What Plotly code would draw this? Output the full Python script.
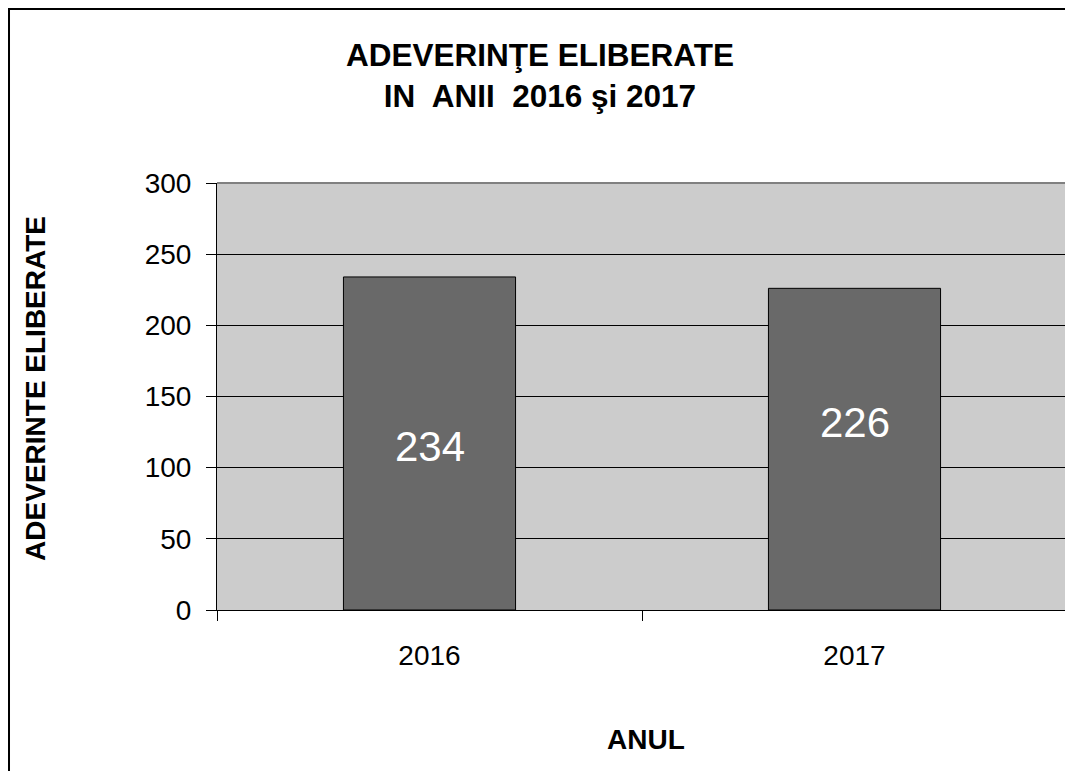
import plotly.graph_objects as go

ANI = ["2016", "2017"]
ADEVERINTE = [234, 226]
Y_TICKS = [0, 50, 100, 150, 200, 250, 300]

TITLU = "ADEVERINŢE ELIBERATE<br>IN\u00a0 ANII\u00a0 2016 şi 2017"
TITLU_Y = "ADEVERINTE ELIBERATE"
TITLU_X = "ANUL"

FONT = "Arial, Liberation Sans, sans-serif"

fig = go.Figure()

fig.add_trace(
    go.Bar(
        x=ANI,
        y=ADEVERINTE,
        width=0.405,
        marker=dict(
            color="#696969",
            line=dict(color="black", width=1)
        ),
        hoverinfo="x+y",
        showlegend=False
    )
)

# etichete valori in interiorul barelor (x = indexul categoriei)
label_shift = [-3, 27]
for i, (val, dy) in enumerate(zip(ADEVERINTE, label_shift)):
    fig.add_annotation(
        x=i,
        y=val / 2,
        text=str(val),
        showarrow=False,
        yshift=dy,
        xanchor="center",
        yanchor="middle",
        font=dict(family=FONT, size=42, color="white")
    )

# titluri axe
fig.add_annotation(
    xref="paper", yref="paper",
    x=-0.213, y=0.52,
    xanchor="center", yanchor="middle",
    text=f"<b>{TITLU_Y}</b>",
    textangle=-90,
    showarrow=False,
    font=dict(family=FONT, size=28, color="black")
)
fig.add_annotation(
    xref="paper", yref="paper",
    x=0.505, y=-0.304,
    xanchor="center", yanchor="middle",
    text=f"<b>{TITLU_X}</b>",
    showarrow=False,
    font=dict(family=FONT, size=28, color="black")
)

# chenar exterior
fig.add_shape(
    type="rect",
    xref="paper", yref="paper",
    x0=-0.2447, x1=1.03, y0=-0.45, y1=1.4075,
    line=dict(color="black", width=2),
    layer="above"
)
# margini gri sus / dreapta
fig.add_shape(
    type="line", xref="paper", yref="paper",
    x0=0, x1=1, y0=1, y1=1,
    line=dict(color="#808080", width=2), layer="above"
)
fig.add_shape(
    type="line", xref="paper", yref="paper",
    x0=1, x1=1, y0=0, y1=1,
    line=dict(color="#808080", width=2), layer="above"
)

fig.update_layout(
    width=1065,
    height=763,
    margin=dict(l=209, r=6, t=175, b=161),
    paper_bgcolor="white",
    plot_bgcolor="#CCCCCC",
    font=dict(family=FONT, size=28, color="black"),
    title=dict(
        text=f"<b>{TITLU}</b>",
        x=0.4995,
        xanchor="center",
        y=0.924,
        yanchor="middle",
        xref="container",
        yref="container",
        font=dict(family=FONT, size=31.5, color="black")
    ),
    bargap=0.6
)

fig.update_xaxes(
    type="category",
    range=[-0.5, 1.5],
    showline=True,
    linecolor="black",
    linewidth=1,
    ticks="outside",
    tickson="boundaries",
    ticklen=10,
    tickcolor="black",
    tickfont=dict(family=FONT, size=28, color="black"),
    ticklabelstandoff=20,
    showgrid=False
)

fig.update_yaxes(
    range=[0, 300],
    tickvals=Y_TICKS,
    showline=True,
    linecolor="black",
    linewidth=1,
    ticks="outside",
    ticklen=10,
    tickcolor="black",
    tickfont=dict(family=FONT, size=28, color="black"),
    ticklabelstandoff=9,
    showgrid=True,
    gridcolor="black",
    gridwidth=1,
    zeroline=False
)

fig.write_html("out.html")
